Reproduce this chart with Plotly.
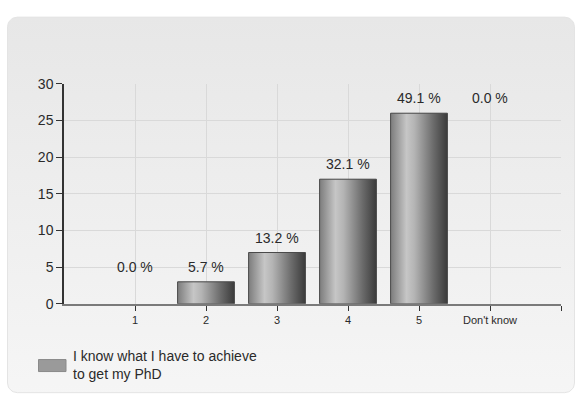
import numpy as np
import plotly.graph_objects as go

# Survey answers: "I know what I have to achieve to get my PhD"
categories = ["1", "2", "3", "4", "5", "Don't know"]
counts = [0, 3, 7, 17, 26, 0]
series_name = "I know what I have to achieve<br>to get my PhD"
y_ticks = [0, 5, 10, 15, 20, 25, 30]

W, H = 578, 405
total = sum(counts)
percents = [c / total * 100 for c in counts]
xpos = list(range(1, len(categories) + 1))
bar_w = 0.8

FONT = "Liberation Sans, Arial, sans-serif"
TXT = "#2a2a2a"
bar_scale = [[0.0, "#7c7c7c"], [0.28, "#c6c6c6"], [0.42, "#b4b4b4"],
             [0.75, "#6c6c6c"], [1.0, "#3a3a3a"]]

fig = go.Figure()

# rounded background panel with a soft vertical gradient (pixel-space subplot)
x0, x1, y0, y1, r = 7.5, 574.5, 9.5, 400.5, 10
t = np.linspace(0, np.pi / 2, 12)
px, py = [], []
for cx, cy, a0 in [(x1 - r, y0 + r, -np.pi / 2), (x1 - r, y1 - r, 0),
                   (x0 + r, y1 - r, np.pi / 2), (x0 + r, y0 + r, np.pi)]:
    px += list(cx + r * np.cos(a0 + t))
    py += list(cy + r * np.sin(a0 + t))
px.append(px[0]); py.append(py[0])
fig.add_trace(go.Scatter(
    x=px, y=py, mode="lines", fill="toself", line=dict(color="#e4e4e4", width=1),
    fillgradient=dict(type="vertical", colorscale=[[0, "#e7e7e7"], [1, "#f6f6f6"]],
                      start=y0, stop=y1),
    hoverinfo="skip", showlegend=False, xaxis="x", yaxis="y"))

# base bars
fig.add_trace(go.Bar(
    x=xpos, y=counts, width=bar_w, name=series_name,
    marker=dict(color="#909090", line=dict(width=0)),
    showlegend=False, xaxis="x2", yaxis="y2"))

# cylinder shading on each bar
for xc, v in zip(xpos, counts):
    if v <= 0:
        continue
    l, rr = xc - bar_w / 2, xc + bar_w / 2
    fig.add_trace(go.Scatter(
        x=[l, l, rr, rr, l], y=[0, v, v, 0, 0], mode="lines", fill="toself",
        line=dict(color="#4a4a4a", width=1),
        fillgradient=dict(type="horizontal", colorscale=bar_scale, start=l, stop=rr),
        hoverinfo="skip", showlegend=False, xaxis="x2", yaxis="y2"))

# percentage labels above the bars; empty bars borrow their neighbour's height
annotations = []
for i, (xc, v, p) in enumerate(zip(xpos, counts, percents)):
    if v > 0:
        ly = v
    else:
        neigh = [counts[j] for j in (i - 1, i + 1) if 0 <= j < len(counts)]
        ly = max(neigh)
    annotations.append(dict(
        x=xc, y=ly, xref="x2", yref="y2", text=f"{p:.1f} %", showarrow=False,
        yanchor="middle", yshift=15, font=dict(family=FONT, size=14, color=TXT)))

# legend drawn as swatch + text
annotations.append(dict(
    x=71 / W, y=1 - 371.5 / H, xref="paper", yref="paper", xanchor="left", yanchor="middle",
    text=series_name, align="left", showarrow=False,
    font=dict(family=FONT, size=14, color=TXT)))
shapes = [dict(type="rect", xref="paper", yref="paper",
               x0=38.5 / W, x1=66 / W, y0=1 - 378.5 / H, y1=1 - 366 / H,
               fillcolor="#9a9a9a", line=dict(color="#8a8a8a", width=1), layer="above")]

fig.update_layout(
    width=W, height=H,
    margin=dict(l=0, r=0, t=0, b=0),
    paper_bgcolor="white", plot_bgcolor="rgba(0,0,0,0)",
    showlegend=False,
    font=dict(family=FONT, color=TXT),
    annotations=annotations, shapes=shapes,
    xaxis=dict(domain=[0, 1], range=[0, W], visible=False, fixedrange=True),
    yaxis=dict(domain=[0, 1], range=[H, 0], visible=False, fixedrange=True),
    xaxis2=dict(
        domain=[64 / W, 561 / W], range=[0, len(categories) + 1], anchor="y2",
        tickmode="array", tickvals=xpos + [len(categories) + 1],
        ticktext=categories + [""],
        showgrid=True, gridcolor="#d9d9d9", gridwidth=1,
        showline=True, linecolor="#7a7a7a", linewidth=2,
        ticks="outside", ticklen=5, tickcolor="#333333", tickwidth=1,
        tickfont=dict(family=FONT, size=11, color=TXT),
        zeroline=False, fixedrange=True),
    yaxis2=dict(
        domain=[1 - 308 / H, 1 - 79 / H], range=[0, 30], anchor="x2",
        tickmode="array", tickvals=y_ticks,
        showgrid=True, gridcolor="#d9d9d9", gridwidth=1,
        showline=True, linecolor="#333333", linewidth=1.5,
        ticks="outside", ticklen=6, tickcolor="#333333", tickwidth=1,
        tickfont=dict(family=FONT, size=14, color=TXT),
        zeroline=False, fixedrange=True),
)

fig.write_html("out.html", config={"displayModeBar": False})
